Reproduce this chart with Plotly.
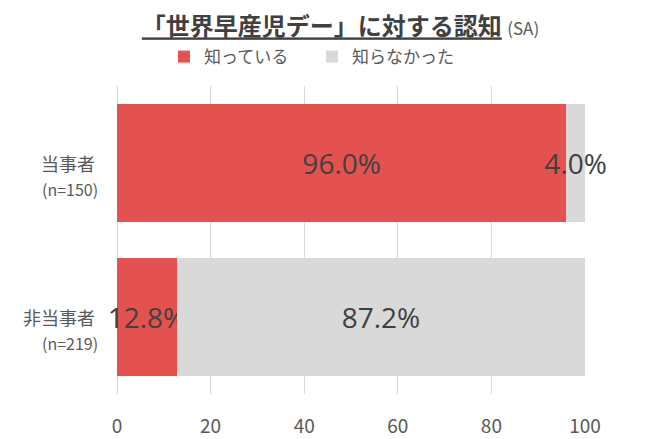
import plotly.graph_objects as go

# 回答者区分（上から順）
categories = ["当事者", "非当事者"]
sample_sizes = ["(n=150)", "(n=219)"]

# 認知の割合 (%)
aware = [96.0, 12.8]
unaware = [4.0, 87.2]

x_ticks = [0, 20, 40, 60, 80, 100]

RED = "#E4524F"
GRAY = "#D9D9D9"
TEXT = "#404040"
SUB = "#595959"
JP_FONT = "Noto Sans CJK JP"

# ページ本体の既定マージン(8px)分を差し引いたサイズ
W, H = 652, 431


def pct(values):
    return [f"{v:.1f}%" for v in values]


fig = go.Figure()

fig.add_trace(go.Bar(
    name="知っている",
    y=categories,
    x=aware,
    orientation="h",
    marker=dict(color=RED, line=dict(width=0)),
    text=pct(aware),
    textposition="inside",
    insidetextanchor="middle",
    textangle=0,
    textfont=dict(size=28, color=TEXT, family="Open Sans"),
    cliponaxis=False,
))
fig.add_trace(go.Bar(
    name="知らなかった",
    y=categories,
    x=unaware,
    orientation="h",
    marker=dict(color=GRAY, line=dict(width=0)),
    text=pct(unaware),
    textposition="inside",
    insidetextanchor="middle",
    textangle=0,
    textfont=dict(size=28, color=TEXT, family="Open Sans"),
    cliponaxis=False,
))

# 区分ラベル（左側）
for cat, n in zip(categories, sample_sizes):
    fig.add_annotation(
        x=0, xref="paper", y=cat, yref="y",
        text=cat, showarrow=False,
        xanchor="right", yanchor="middle", xshift=-20,
        font=dict(size=18, color=SUB, family=JP_FONT),
    )
    fig.add_annotation(
        x=0, xref="paper", y=cat, yref="y",
        text=n, showarrow=False,
        xanchor="right", yanchor="middle", xshift=-17, yshift=-26,
        font=dict(size=16, color=SUB, family=JP_FONT),
    )

fig.update_layout(
    width=W,
    height=H,
    barmode="stack",
    bargap=0.234,
    paper_bgcolor="white",
    plot_bgcolor="white",
    margin=dict(l=109, r=75, t=78, b=45, autoexpand=False),
    font=dict(family=JP_FONT, color=SUB),
    uniformtext=dict(minsize=28, mode="show"),
    title=dict(
        text="<b><u>「世界早産児デー」に対する認知</u></b> <span style='font-size:17px;color:#595959'>(SA)</span>",
        x=332.5 / W, xanchor="center", xref="container",
        y=1 - 19 / H, yanchor="middle", yref="container",
        pad=dict(t=0, b=0),
        font=dict(size=24, color=TEXT, family=JP_FONT),
    ),
    legend=dict(
        orientation="h",
        traceorder="normal",
        x=0.1004, xanchor="left",
        y=1.094, yanchor="middle",
        font=dict(size=17, color=SUB, family=JP_FONT),
        itemwidth=30,
        entrywidth=103,
        bgcolor="rgba(0,0,0,0)",
    ),
    showlegend=True,
)

fig.update_xaxes(
    range=[0, 100],
    tickvals=x_ticks,
    showgrid=True,
    gridcolor=GRAY,
    gridwidth=1,
    zeroline=True,
    zerolinecolor=GRAY,
    zerolinewidth=1,
    showline=False,
    ticks="",
    automargin=False,
    ticklabelstandoff=19,
    tickfont=dict(size=19, color=SUB, family=JP_FONT),
)
fig.update_yaxes(
    categoryorder="array",
    categoryarray=categories[::-1],
    range=[-0.5, 1.5],
    showticklabels=False,
    showgrid=False,
    zeroline=False,
    automargin=False,
)

fig.write_html("out.html")
